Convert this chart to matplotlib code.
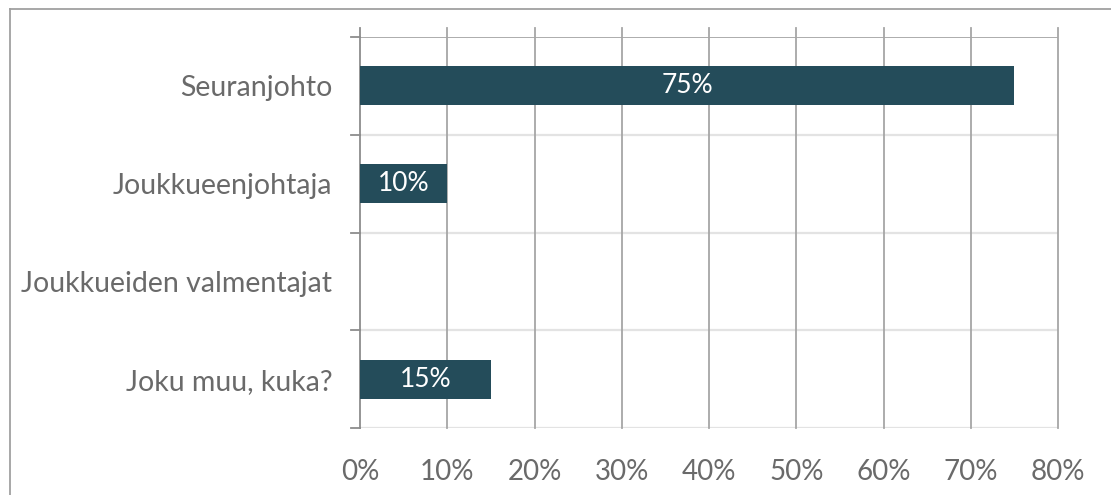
import matplotlib
matplotlib.use("Agg")
import matplotlib.pyplot as plt
from matplotlib.lines import Line2D

categories = ["Seuranjohto", "Joukkueenjohtaja", "Joukkueiden valmentajat", "Joku muu, kuka?"]
values = [75, 10, 0, 15]
value_labels = ["75%", "10%", "", "15%"]
x_ticks = [0, 10, 20, 30, 40, 50, 60, 70, 80]
x_tick_labels = ["0%", "10%", "20%", "30%", "40%", "50%", "60%", "70%", "80%"]

W, H = 1111, 495
fig = plt.figure(figsize=(W / 100, H / 100), dpi=100)
plt.rcParams['font.family'] = ['Lato', 'DejaVu Sans']

left, right, top, bottom = 360, 1058, 37, 428
ax = fig.add_axes([left / W, 1 - bottom / H, (right - left) / W, (bottom - top) / H])

bar_color = "#244C5A"
text_gray = "#6A6A6A"
grid_gray = "#A6A6A6"
light_gray = "#E3E3E3"

ypos = list(range(len(categories)))
ax.barh(ypos, values, height=0.4, color=bar_color, zorder=3)
for y, v, lab in zip(ypos, values, value_labels):
    if lab:
        ax.text(v / 2, y, lab, ha="center", va="center", color="white", fontsize=19, zorder=4)

ax.set_xlim(0, 80)
ax.set_ylim(len(categories) - 0.5, -0.5)

for s in ax.spines.values():
    s.set_visible(False)

# vertical gridlines (extend slightly above the plot)
ext = 9 / (bottom - top)
for xt in x_ticks:
    ax.add_line(Line2D([xt, xt], [0, 1 + ext], transform=ax.get_xaxis_transform(),
                       color=grid_gray if xt else "#8C8C8C", lw=1.3, clip_on=False, zorder=2))

# category separators
for i, yb in enumerate([-0.5 + k for k in range(len(categories) + 1)]):
    col = grid_gray if i == 0 else light_gray
    ax.axhline(yb, color=col, lw=1.6 if i else 1.3, zorder=1)
    ax.add_line(Line2D([-9 / (right - left), 0], [yb, yb], transform=ax.get_yaxis_transform(),
                       color="#8C8C8C", lw=1.3, clip_on=False, zorder=2))

ax.set_xticks(x_ticks)
ax.set_xticklabels(x_tick_labels)
ax.tick_params(axis="x", length=0, pad=22, labelsize=20, labelcolor=text_gray)
ax.set_yticks(ypos)
ax.set_yticklabels(categories)
ax.tick_params(axis="y", length=0, pad=20, labelsize=20.5, labelcolor=text_gray)

# figure border (left and top visible)
fig.add_artist(Line2D([10 / W, 10 / W], [0, 1 - 9 / H], transform=fig.transFigure, color="#A0A0A0", lw=1.3))
fig.add_artist(Line2D([10 / W, 1], [1 - 9 / H, 1 - 9 / H], transform=fig.transFigure, color="#A0A0A0", lw=1.3))

fig.savefig("out.png", dpi=100)
